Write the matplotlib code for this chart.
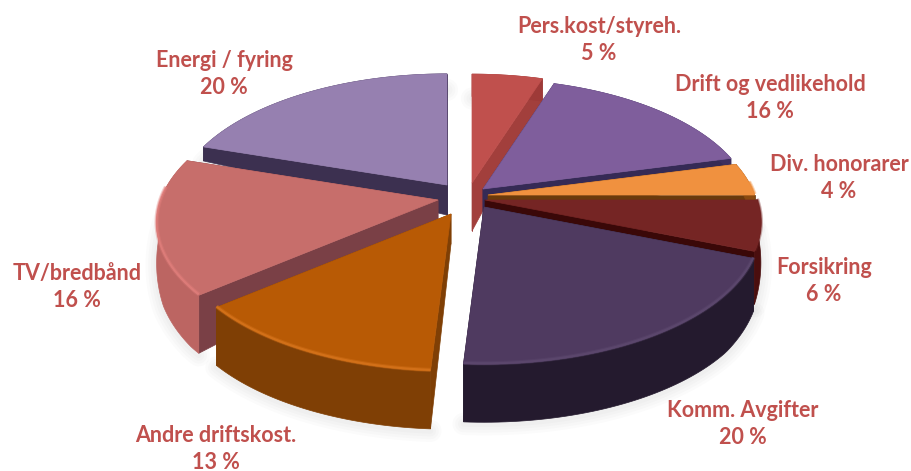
import numpy as np
import matplotlib
matplotlib.use("Agg")
import matplotlib.pyplot as plt

# values, clockwise from 12 o'clock
categories = ["Pers.kost/styreh.", "Drift og vedlikehold", "Div. honorarer", "Forsikring",
              "Komm. Avgifter", "Andre driftskost.", "TV/bredbånd", "Energi / fyring"]
shares = [5, 16, 4, 6, 20, 13, 16, 20]

# where each slice's tip sits after exploding, and its radius / wall factors
apex_x = [472, 483, 488, 485, 484, 451, 438, 447]
apex_y = [183, 189, 195, 200, 207, 214, 200, 185]
radius = [0.97, 0.98, 0.98, 1.0, 1.0, 1.0, 1.02, 0.99]
wall_factor = [1.6, 1.0, 1.0, 1.0, 1.0, 1.0, 1.0, 1.0]

top_colors = ["#C0504D", "#7F5E9C", "#F0913F", "#752524", "#4F3A60", "#B85A05", "#C76E6B", "#9680B0"]
arc_colors = ["#9E3A38", "#3D2F5E", "#8A4A10", "#4A0E0E", "#241A2E", "#7F3F05", "#BC6562", "#3C3050"]
cut_colors = ["#A23F3C", "#352A55", "#6B3A0C", "#3A0808", "#241A2E", "#7F3F05", "#7A4046", "#3C3050"]
rim_colors = ["#C0504D", "#7F5E9C", "#F0913F", "#752524", "#5E4A70", "#D9761E", "#E27F7C", "#9680B0"]

label_x = [599, 770, 839, 824, 743, 216, 77, 224]
label_y = [40, 98, 178, 281, 424, 449, 287, 74]

draw_order = [0, 7, 1, 2, 3, 6, 4, 5]

RX = 272
RY = 131
K = 0.167
wall_z = [-1, -0.6, -0.37, 0, 0.31, 1]
wall_h = [58, 58, 53, 30, 14, 14]


def project(x, z, cx, cy, scale):
    p = 1 / (1 + K * z)
    return cx + RX * scale * x * p, cy - RY * scale * z * p


edges = np.radians(np.concatenate([[0], np.cumsum(shares)]) * 360 / sum(shares))

fig = plt.figure(figsize=(9.12, 4.71), dpi=100)
ax = fig.add_axes([0, 0, 1, 1])
ax.set_xlim(0, 912)
ax.set_ylim(471, 0)
ax.axis("off")

# soft grey shadow round the whole pie
for i in draw_order:
    theta = np.linspace(edges[i], edges[i + 1], 60)
    sx, sy = project(np.sin(theta), np.cos(theta), apex_x[i], apex_y[i], radius[i])
    sh = np.interp(np.cos(theta), wall_z, wall_h) * wall_factor[i]
    for lw in [4, 8, 12, 16]:
        ax.plot(sx, sy + sh + 2, color="#808080", alpha=0.03, lw=lw, solid_capstyle="round", zorder=1)

z = 2
for i in draw_order:
    cx, cy, r = apex_x[i], apex_y[i], radius[i]
    theta = np.linspace(edges[i], edges[i + 1], 60)
    px, py = project(np.sin(theta), np.cos(theta), cx, cy, r)
    h = np.interp(np.cos(theta), wall_z, wall_h) * wall_factor[i]
    h0 = np.interp(0, wall_z, wall_h) * wall_factor[i]

    # cut faces first
    for k in [0, -1]:
        ax.fill([cx, px[k], px[k], cx], [cy, py[k], py[k] + h[k], cy + h0],
                color=cut_colors[i], lw=0.5, zorder=z)
    # outer wall
    ax.fill(np.r_[px, px[::-1]], np.r_[py, (py + h)[::-1]], color=arc_colors[i], lw=0.5, zorder=z)
    # top of the slice
    ax.fill(np.r_[cx, px], np.r_[cy, py], color=top_colors[i], lw=0.5, zorder=z)
    # light edge where top meets the wall, only where the wall faces us
    front = np.cos(theta) < 0.1
    if front.any():
        ax.plot(px[front], py[front] - 1, color=rim_colors[i], lw=3, alpha=0.35, zorder=z, solid_capstyle="butt")
        ax.plot(px[front], py[front] - 1, color=rim_colors[i], lw=1.5, alpha=0.7, zorder=z, solid_capstyle="butt")
    z += 1

for name, share, x, y in zip(categories, shares, label_x, label_y):
    ax.text(x, y, f"{name}\n{share} %", color="#C0504D", fontsize=15.5, family="Lato", fontweight="bold",
            ha="center", va="center", linespacing=1.3, zorder=50)

fig.savefig("out.png", dpi=100, facecolor="white")
